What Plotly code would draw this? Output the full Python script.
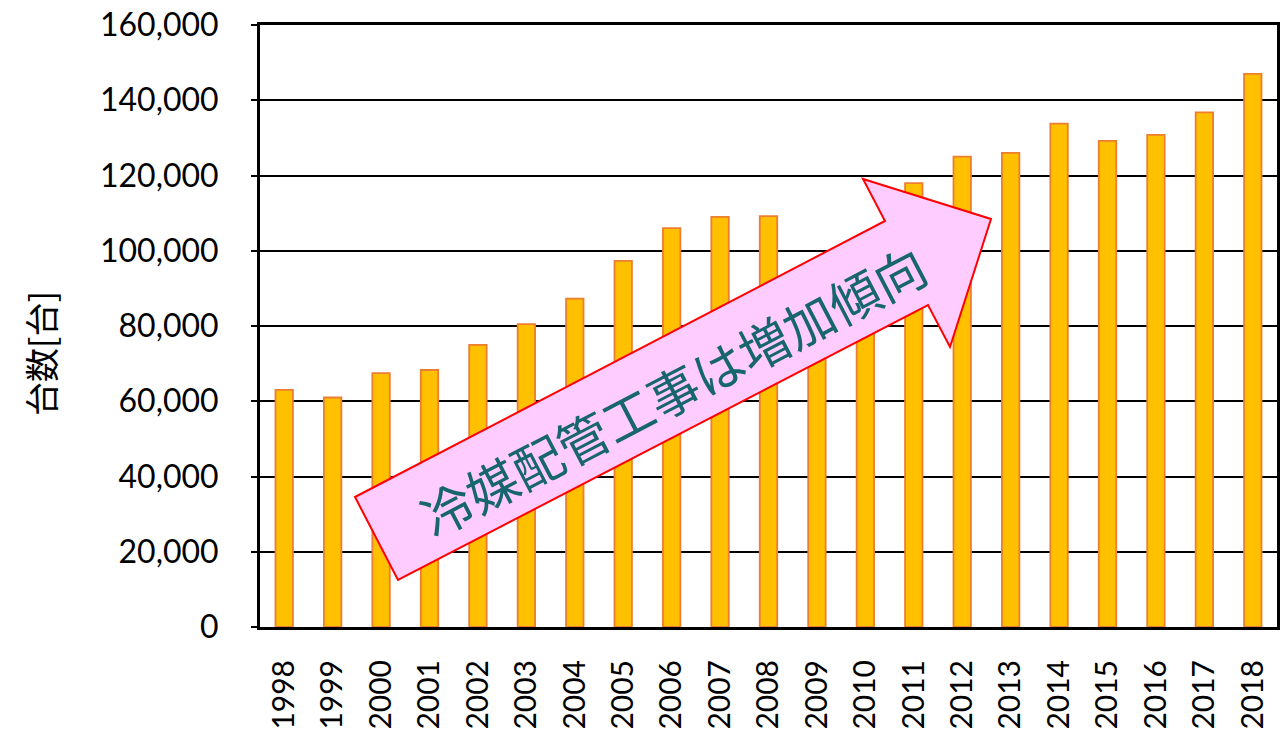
import plotly.graph_objects as go

years = [str(y) for y in range(1998, 2019)]
units = [63000, 61000, 67500, 68300, 75000, 80500, 87300, 97300, 106000, 109000,
         109200, 88000, 98000, 118000, 125000, 126000, 133800, 129200, 130800, 136800, 147000]
y_ticks = [0, 20000, 40000, 60000, 80000, 100000, 120000, 140000, 160000]
y_title = "台数[台]"
arrow_text = "冷媒配管工事は増加傾向"

W, H = 1286, 729
L, T = 260, 25
R = W - 1277
B = H - 627
pw, ph = W - L - R, H - T - B

def px(x, y):
    return ((x - L) / pw, (H - B - y) / ph)

arrow_px = [(355, 497), (885, 221), (863, 179), (991, 219), (950, 347), (928, 305), (398, 580)]
pts = [px(x, y) for x, y in arrow_px]
path = "M " + " L ".join(f"{a:.5f},{b:.5f}" for a, b in pts) + " Z"

fig = go.Figure()
fig.add_trace(go.Bar(
    x=years, y=units, width=0.36,
    marker=dict(color="#FFC000", line=dict(color="#ED7D31", width=1.8)),
))

fig.add_shape(type="path", path=path, xref="paper", yref="paper",
              fillcolor="#FFCCFF", line=dict(color="#FF0000", width=2), layer="above")

cx, cy = px(672, 390)
fig.add_annotation(x=cx, y=cy, xref="paper", yref="paper", text=arrow_text,
                   showarrow=False, textangle=-27.5, xanchor="center", yanchor="middle",
                   font=dict(family="Noto Sans CJK JP", size=51, color="#17656F"))

tx, ty = px(40, 354)
fig.add_annotation(x=tx, y=ty, xref="paper", yref="paper", text=y_title,
                   showarrow=False, textangle=-90, xanchor="center", yanchor="middle",
                   font=dict(family="Noto Sans CJK JP", size=34, color="black"))

fig.update_layout(
    width=W, height=H,
    margin=dict(l=L, r=R, t=T, b=B, pad=0),
    plot_bgcolor="white", paper_bgcolor="white",
    showlegend=False,
    font=dict(family="Lato, Noto Sans CJK JP", color="black"),
)
fig.update_xaxes(
    type="category", tickangle=-90, tickfont=dict(size=30, family="Lato"),
    showline=True, linecolor="black", linewidth=3, mirror=True,
    showgrid=False, ticks="", ticklabelstandoff=18, automargin=False,
)
fig.update_yaxes(
    range=[0, 160000], tickvals=y_ticks, tickformat=",",
    tickfont=dict(size=32, family="Lato"),
    showline=True, linecolor="black", linewidth=3, mirror=True,
    showgrid=True, gridcolor="black", gridwidth=1.5,
    ticks="outside", ticklen=6, tickcolor="black", tickwidth=1.5,
    ticklabelstandoff=26, automargin=False,
    zeroline=False,
)

fig.write_html("out.html", config={"displayModeBar": False},
               post_script="document.body.style.margin='0';document.body.style.overflow='hidden';")
